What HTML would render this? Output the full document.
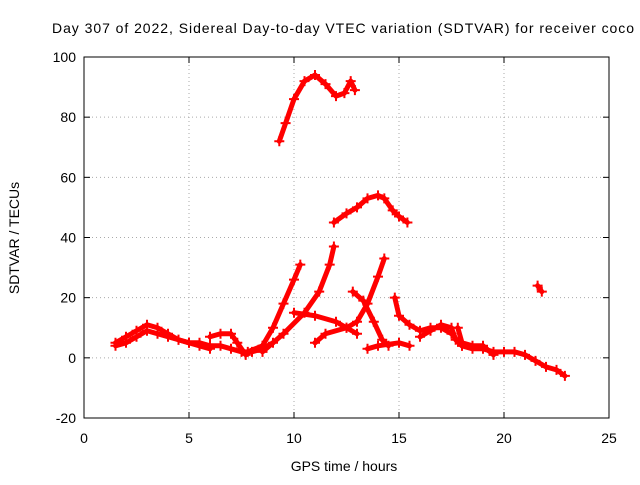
<!DOCTYPE html>
<html><head><meta charset="utf-8"><style>
body{margin:0;background:#fff;font-family:"Liberation Sans",sans-serif;}
svg text{font-family:"Liberation Sans",sans-serif;font-size:14px;fill:#000}
</style></head><body>
<svg id="chart" width="640" height="480" xmlns="http://www.w3.org/2000/svg">
<rect width="640" height="480" fill="#fff"/>
<text x="52" y="33" textLength="582" lengthAdjust="spacing">Day 307 of 2022, Sidereal Day-to-day VTEC variation (SDTVAR) for receiver coco</text>
<g id="grid"></g>
<g id="axes"></g>
<g id="series"></g>
<rect x="84" y="57" width="525" height="361" fill="none" stroke="#000" stroke-width="1"/>
<text x="344" y="471" text-anchor="middle">GPS time / hours</text>
<text transform="translate(19,238) rotate(-90)" text-anchor="middle">SDTVAR / TECUs</text>
</svg>
<script>
const xTicks=[0,5,10,15,20,25];
const yTicks=[-20,0,20,40,60,80,100];
const track1=[[9.3,72],[9.6,78],[10,86],[10.5,92],[11,94],[11.5,91],[12,87],[12.4,88],[12.7,92],[12.9,89]];
const track2=[[11.9,45],[12.5,48],[13,50],[13.5,53],[14,54],[14.3,53],[14.7,49],[15,47],[15.4,45]];
const track3=[[21.6,24],[21.8,22]];
const track4=[[1.5,5],[2,7],[2.5,9],[3,11],[3.5,10],[4,8],[4.5,6],[5,5],[5.5,5],[6,4],[6.5,4],[7,3],[7.5,2],[8,2],[8.5,3],[9,5]];
const track4b=[[1.5,4],[2,5],[2.5,7],[3,9],[3.5,8],[4,7],[4.5,6],[5,5],[5.5,4],[6,3]];
const track5=[[6,7],[6.5,8],[7,8],[7.3,5],[7.7,1]];
const track6=[[7.8,2],[8.5,4],[9,10],[9.5,18],[10,26],[10.3,31]];
const track7=[[8.5,2],[9.5,8],[10.5,15],[11.2,22],[11.7,31],[11.9,37]];
const track8=[[10,15],[11,14],[12,12],[12.5,10],[13,8]];
const track9=[[11,5],[11.5,8],[12.5,10],[13,12],[13.5,18],[14,27],[14.3,33]];
const track10=[[12.8,22],[13.3,19],[13.8,12],[14.2,6],[14.5,4]];
const track11=[[13.5,3],[14,4],[15,5],[15.5,4]];
const track12=[[14.8,20],[15,14],[15.5,11],[16,9],[16.5,10],[17,10],[17.5,8],[18,4],[18.5,3],[19,3],[19.5,2],[20,2],[20.5,2],[21,1],[21.5,-1],[22,-3],[22.5,-4],[22.9,-6]];
const track13=[[16,7],[16.5,9],[17,11],[17.5,10],[17.7,6],[18,4]];
const track14=[[17.8,10],[18,5],[18.5,4],[19,4],[19.5,1]];
const tracks=[track1,track2,track3,track4,track4b,track5,track6,track7,track8,track9,track10,track11,track12,track13,track14];
const NS='http://www.w3.org/2000/svg';
const X=v=>84+v*(525/25);
const Y=v=>418-(v+20)*(361/120);
const grid=document.getElementById('grid'),axes=document.getElementById('axes'),ser=document.getElementById('series');
function mk(t,a,p){const e=document.createElementNS(NS,t);for(const k in a)e.setAttribute(k,a[k]);p.appendChild(e);return e;}
xTicks.forEach(t=>{
 if(t>0&&t<25){const g=mk('line',{x1:X(t),x2:X(t),y1:57,y2:418,stroke:'#aaa','stroke-dasharray':'1,3'},grid);
 
 }
 mk('line',{x1:X(t),x2:X(t),y1:418,y2:412,stroke:'#000'},axes);
 mk('line',{x1:X(t),x2:X(t),y1:57,y2:63,stroke:'#000'},axes);
 const l=mk('text',{x:X(t),y:443,'text-anchor':'middle'},axes);l.textContent=t;
 
 
});
yTicks.forEach(t=>{
 if(t>-20&&t<100){const g=mk('line',{x1:84,x2:609,y1:Y(t),y2:Y(t),stroke:'#aaa','stroke-dasharray':'1,3'},grid);
 
 }
 mk('line',{x1:84,x2:90,y1:Y(t),y2:Y(t),stroke:'#000'},axes);
 mk('line',{x1:603,x2:609,y1:Y(t),y2:Y(t),stroke:'#000'},axes);
 const l=mk('text',{x:76,y:Y(t)+5,'text-anchor':'end'},axes);l.textContent=t;
 
 
});
tracks.forEach(tr=>{
 const p=mk('polyline',{points:tr.map(d=>X(d[0])+','+Y(d[1])).join(' '),fill:'none',stroke:'#f00','stroke-width':5,'stroke-linejoin':'round','stroke-linecap':'round'},ser);
 
 
 tr.forEach(d=>{
  const m=mk('path',{d:`M${X(d[0])-5},${Y(d[1])}h10M${X(d[0])},${Y(d[1])-5}v10`,stroke:'#f00','stroke-width':2},ser);
  
  
 });
});
</script>
</body></html>
